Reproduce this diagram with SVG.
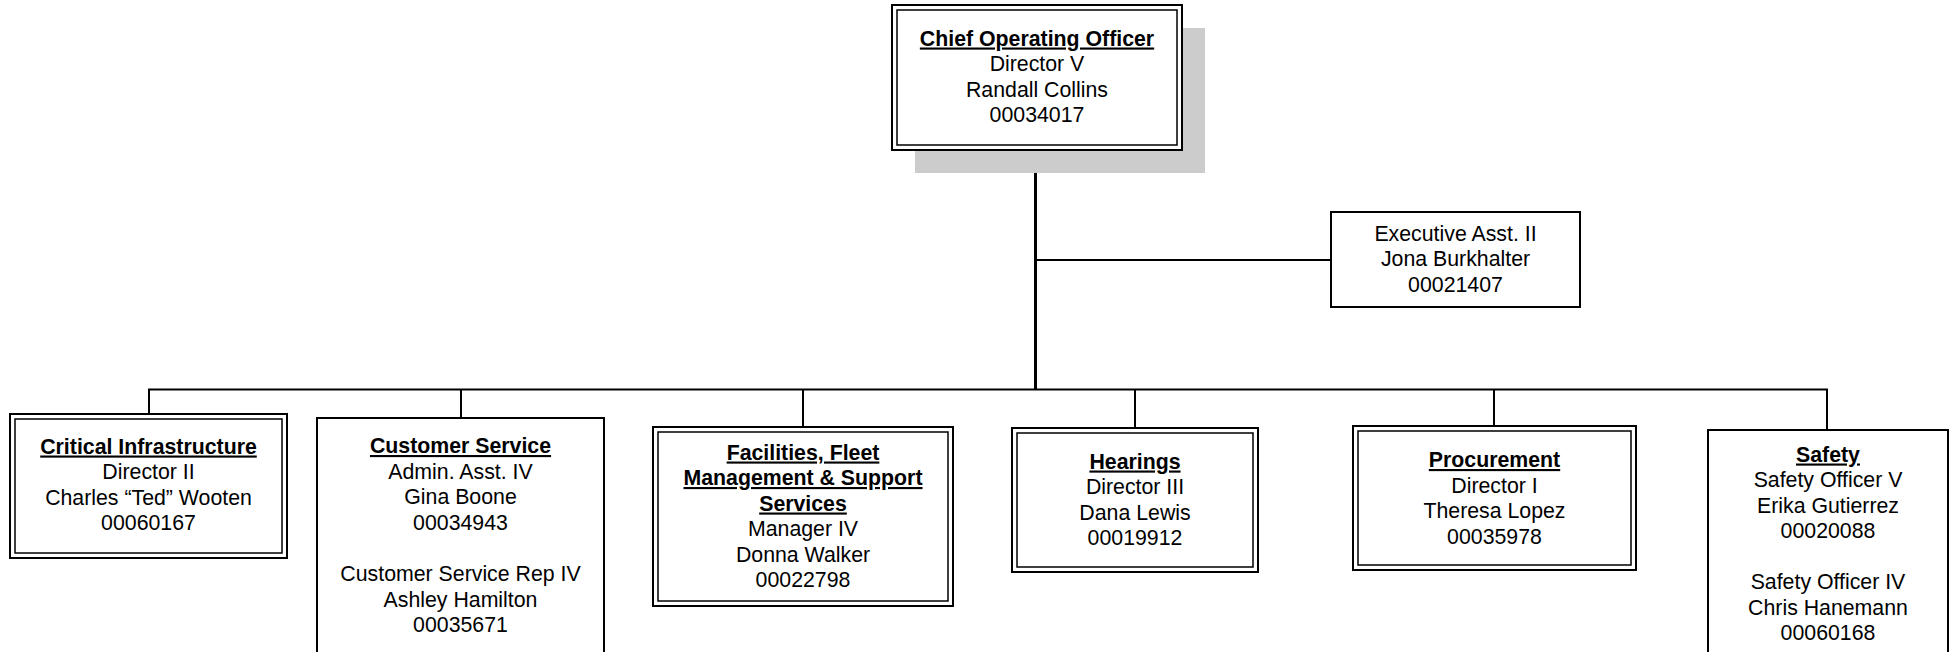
<svg xmlns="http://www.w3.org/2000/svg" width="1954" height="652" viewBox="0 0 1954 652">
  <style>
    text { font-family: "Liberation Sans", Arial, sans-serif; font-size: 21.3px; fill: #000; text-anchor: middle; }
    .h { font-weight: bold; text-decoration: underline; }
    .box { fill: #fff; stroke: #000; stroke-width: 2; }
    .inner { fill: none; stroke: #000; stroke-width: 1.5; }
    .wire { fill: none; stroke: #000; stroke-width: 2; }
    .trunk { fill: none; stroke: #000; stroke-width: 3; }
  </style>
  <rect width="1954" height="652" fill="#fff"/>

  <!-- reporting lines -->
  <g id="connectors">
    <line class="trunk" x1="1035.5" y1="150" x2="1035.5" y2="390"/>
    <line class="wire" x1="1035.5" y1="260" x2="1331" y2="260"/>
    <line class="wire" x1="148" y1="389.5" x2="1828" y2="389.5"/>
    <line class="wire" x1="149" y1="389.5" x2="149" y2="414"/>
    <line class="wire" x1="461" y1="389.5" x2="461" y2="418"/>
    <line class="wire" x1="803" y1="389.5" x2="803" y2="427"/>
    <line class="wire" x1="1135" y1="389.5" x2="1135" y2="428"/>
    <line class="wire" x1="1494" y1="389.5" x2="1494" y2="426"/>
    <line class="wire" x1="1827" y1="389.5" x2="1827" y2="430"/>
  </g>

  <g id="coo">
    <rect x="915" y="28" width="290" height="145" fill="#cccccc"/>
    <rect class="box" x="892" y="5" width="290" height="145" stroke-width="2.5"/>
    <rect class="inner" x="897" y="10" width="280" height="135"/>
    <text class="h" x="1037" y="45.5">Chief Operating Officer</text>
    <text x="1037" y="71">Director V</text>
    <text x="1037" y="96.5">Randall Collins</text>
    <text x="1037" y="122">00034017</text>
  </g>

  <g id="executive-asst">
    <rect class="box" x="1331" y="212" width="249" height="95"/>
    <text x="1455.5" y="240.8">Executive Asst. II</text>
    <text x="1455.5" y="266.3">Jona Burkhalter</text>
    <text x="1455.5" y="291.8">00021407</text>
  </g>

  <g id="critical-infrastructure">
    <rect class="box" x="10" y="414" width="277" height="144"/>
    <rect class="inner" x="15" y="419" width="267" height="134"/>
    <text class="h" x="148.5" y="453.5">Critical Infrastructure</text>
    <text x="148.5" y="479.1">Director II</text>
    <text x="148.5" y="504.7">Charles “Ted” Wooten</text>
    <text x="148.5" y="530.3">00060167</text>
  </g>

  <g id="customer-service">
    <rect class="box" x="317" y="418" width="287" height="250"/>
    <text class="h" x="460.5" y="453">Customer Service</text>
    <text x="460.5" y="478.6">Admin. Asst. IV</text>
    <text x="460.5" y="504.2">Gina Boone</text>
    <text x="460.5" y="529.8">00034943</text>
    <text x="460.5" y="581">Customer Service Rep IV</text>
    <text x="460.5" y="606.6">Ashley Hamilton</text>
    <text x="460.5" y="632.2">00035671</text>
  </g>

  <g id="facilities">
    <rect class="box" x="653" y="427" width="300" height="179"/>
    <rect class="inner" x="658" y="432" width="290" height="169"/>
    <text class="h" x="803" y="459.5">Facilities, Fleet</text>
    <text class="h" x="803" y="485">Management &amp; Support</text>
    <text class="h" x="803" y="510.5">Services</text>
    <text x="803" y="536">Manager IV</text>
    <text x="803" y="561.5">Donna Walker</text>
    <text x="803" y="587">00022798</text>
  </g>

  <g id="hearings">
    <rect class="box" x="1012" y="428" width="246" height="144"/>
    <rect class="inner" x="1017" y="433" width="236" height="134"/>
    <text class="h" x="1135" y="468.5">Hearings</text>
    <text x="1135" y="494">Director III</text>
    <text x="1135" y="519.5">Dana Lewis</text>
    <text x="1135" y="545">00019912</text>
  </g>

  <g id="procurement">
    <rect class="box" x="1353" y="426" width="283" height="144"/>
    <rect class="inner" x="1358" y="431" width="273" height="134"/>
    <text class="h" x="1494.5" y="467">Procurement</text>
    <text x="1494.5" y="492.5">Director I</text>
    <text x="1494.5" y="518">Theresa Lopez</text>
    <text x="1494.5" y="543.5">00035978</text>
  </g>

  <g id="safety">
    <rect class="box" x="1708" y="430" width="240" height="240"/>
    <text class="h" x="1828" y="461.5">Safety</text>
    <text x="1828" y="487">Safety Officer V</text>
    <text x="1828" y="512.5">Erika Gutierrez</text>
    <text x="1828" y="538">00020088</text>
    <text x="1828" y="589">Safety Officer IV</text>
    <text x="1828" y="614.5">Chris Hanemann</text>
    <text x="1828" y="640">00060168</text>
  </g>
</svg>
